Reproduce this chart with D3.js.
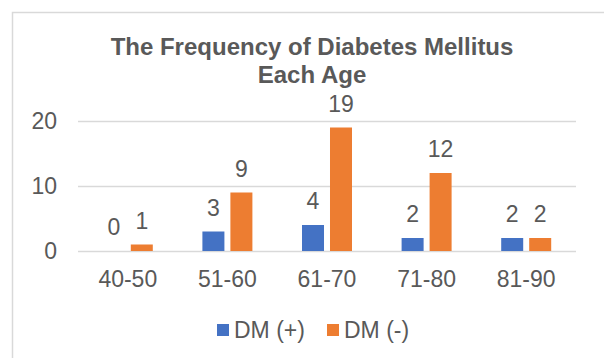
<!DOCTYPE html>
<html>
<head>
<meta charset="utf-8">
<script src="https://cdn.jsdelivr.net/npm/d3@7"></script>
<style>
  body { margin: 0; background: #fff; }
  text { font-family: Arial, "Liberation Sans", sans-serif; fill: #595959; }
</style>
</head>
<body>
<div id="chart"></div>
<script>
// data
var ageGroups = ["40-50", "51-60", "61-70", "71-80", "81-90"];
var seriesNames = ["DM (+)", "DM (-)"];
var dmPositive = [0, 3, 4, 2, 2];
var dmNegative = [1, 9, 19, 12, 2];
var yTicks = [0, 10, 20];
var colors = ["#4472C4", "#ED7D31"];

var svgWidth = 604;
var svgHeight = 358;

var svg = d3.select("#chart")
    .append("svg")
    .attr("width", svgWidth)
    .attr("height", svgHeight);

// chart border (runs off the right and bottom)
svg.append("rect")
    .attr("x", 12.5)
    .attr("y", 12.5)
    .attr("width", 700)
    .attr("height", 500)
    .attr("fill", "none")
    .attr("stroke", "#D9D9D9")
    .attr("stroke-width", 1.5);

// title
var title = svg.append("text")
    .attr("text-anchor", "middle")
    .style("font-weight", "bold")
    .style("font-size", "24px");
title.append("tspan").attr("x", 312).attr("y", 55).text("The Frequency of Diabetes Mellitus");
title.append("tspan").attr("x", 312).attr("y", 83).text("Each Age");

var x0 = d3.scaleBand()
    .domain(ageGroups)
    .range([78, 576]);

var x1 = d3.scaleBand()
    .domain(seriesNames)
    .range([0, x0.bandwidth()])
    .paddingInner(0.214)
    .paddingOuter(0.886);

var y = d3.scaleLinear()
    .domain([0, 20])
    .range([251, 121]);

// gridlines
svg.append("g")
    .selectAll("line")
    .data(yTicks)
    .join("line")
    .attr("x1", 78)
    .attr("x2", 576)
    .attr("y1", d => Math.round(y(d)) + 0.5)
    .attr("y2", d => Math.round(y(d)) + 0.5)
    .attr("stroke", "#D9D9D9")
    .attr("stroke-width", 1.5);

// y tick labels
svg.append("g")
    .selectAll("text")
    .data(yTicks)
    .join("text")
    .attr("x", 57)
    .attr("y", d => y(d) + 8)
    .attr("text-anchor", "end")
    .style("font-size", "23px")
    .text(d => d);

// x labels
svg.append("g")
    .selectAll("text")
    .data(ageGroups)
    .join("text")
    .attr("x", d => x0(d) + x0.bandwidth() / 2)
    .attr("y", 287)
    .attr("text-anchor", "middle")
    .style("font-size", "23px")
    .text(d => d);

var rows = ageGroups.map(function(g, i) {
    return { group: g, values: [dmPositive[i], dmNegative[i]] };
});

var groups = svg.append("g")
    .selectAll("g")
    .data(rows)
    .join("g")
    .attr("transform", d => "translate(" + x0(d.group) + ",0)");

groups.selectAll("rect")
    .data(d => d.values.map((v, i) => ({ name: seriesNames[i], value: v, i: i })))
    .join("rect")
    .attr("x", d => x1(d.name))
    .attr("y", d => y(d.value))
    .attr("width", x1.bandwidth())
    .attr("height", d => y(0) - y(d.value))
    .attr("fill", d => colors[d.i]);

groups.selectAll("text")
    .data(d => d.values.map((v, i) => ({ name: seriesNames[i], value: v, i: i })))
    .join("text")
    .attr("x", d => x1(d.name) + x1.bandwidth() / 2)
    .attr("y", d => y(d.value) - 16)
    .attr("text-anchor", "middle")
    .style("font-size", "23px")
    .text(d => d.value);

// legend
var legendItems = [
    { name: seriesNames[0], color: colors[0], x: 217 },
    { name: seriesNames[1], color: colors[1], x: 327 }
];
var legend = svg.append("g")
    .selectAll("g")
    .data(legendItems)
    .join("g")
    .attr("transform", d => "translate(" + d.x + ",0)");

legend.append("rect")
    .attr("x", 0)
    .attr("y", 324)
    .attr("width", 12)
    .attr("height", 12)
    .attr("fill", d => d.color);

legend.append("text")
    .attr("x", 17)
    .attr("y", 338)
    .style("font-size", "23px")
    .text(d => d.name);
</script>
</body>
</html>
